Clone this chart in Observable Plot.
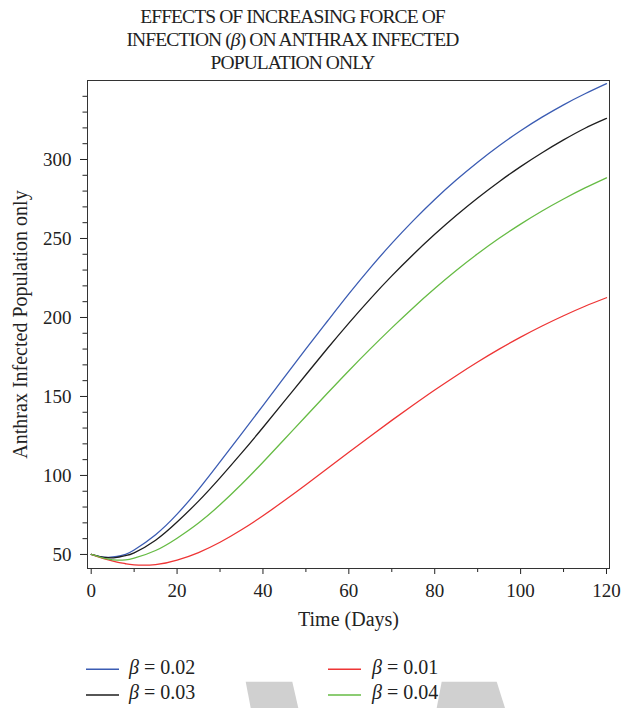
<!DOCTYPE html>
<html><head><meta charset="utf-8">
<script src="https://cdn.jsdelivr.net/npm/d3@7"></script>
<script src="https://cdn.jsdelivr.net/npm/@observablehq/plot@0.6"></script>
<style>
html,body{margin:0;padding:0;background:#fff;}
#wrap{position:relative;width:622px;height:708px;overflow:hidden;font-family:"Liberation Serif","DejaVu Serif",serif;color:#222;}
#title{position:absolute;left:0;top:4.5px;width:585px;text-align:center;font-size:19.5px;line-height:23.3px;letter-spacing:-0.9px;}
#chart{position:absolute;left:0;top:74px;}
#wm{position:absolute;left:0;top:0;}
.lg{position:absolute;font-size:20px;line-height:20px;white-space:nowrap;}
</style>
</head><body>
<div id="wrap">
  <svg id="wm" width="622" height="708">
    <polygon points="245.7,681.7 292.3,681.7 298.3,708 250.7,708" fill="#d0d0d0"/>
    <polygon points="441.7,681.7 496.7,681.7 505,708 436.7,708" fill="#d0d0d0"/>
    <g id="swatches"></g>
  </svg>
  <div id="title">EFFECTS OF INCREASING FORCE OF<br>INFECTION (<i>β</i>) ON ANTHRAX INFECTED<br>POPULATION ONLY</div>
  <div id="chart"></div>
  <div id="legend"></div>
</div>
<script>
const time = [0,2,4,6,8,10,15,20,25,30,35,40,45,50,55,60,65,70,75,80,85,90,95,100,105,110,115,120];
const beta002 = [50,48.6,48.2,48.7,50.1,52.8,62.5,75.5,91.2,108.6,126.3,144.2,162.2,180.1,197.6,214.9,231.4,246.9,261.3,274.7,287,298.3,308.7,318.2,326.8,334.6,341.6,348];
const beta003 = [50,48.6,47.9,48.2,49.3,51,59,70.5,83.75,98.5,114.1,130.35,147,163.75,180.35,196.45,211.8,226.3,239.9,252.65,264.55,275.65,285.95,295.5,304.3,312.4,319.8,326];
const beta001 = [50,48.2,46.6,45.2,44.1,43.4,43.6,46.4,51.2,57.7,65.6,74.5,84.1,94.1,104.35,114.65,124.85,134.85,144.55,154.05,163.15,171.8,179.95,187.55,194.6,201.1,207.1,212.5];
const beta004 = [50,48.3,47,46.4,46.5,47.6,52.5,60.3,69.9,81.4,94.4,108.4,122.9,137.5,152,166.3,180.1,193.4,206.2,218.3,229.7,240.3,250.1,259.1,267.4,275,282,288.4];

const seriesNames = ["β = 0.02","β = 0.03","β = 0.01","β = 0.04"];
const seriesColors = ["#3b5cb3","#1e1e1e","#ee3535","#66bb44"];
const seriesValues = [beta002, beta003, beta001, beta004];

const xMajor = [0,20,40,60,80,100,120];
const xMinor = [10,30,50,70,90,110];
const yMajor = [50,100,150,200,250,300];
const yMinor = d3.range(60,341,10).filter(v => v % 50 !== 0);

const rows = [];
seriesNames.forEach((name, i) => {
  time.forEach((t, j) => rows.push({series: name, t, v: seriesValues[i][j]}));
});

const chart = Plot.plot({
  width: 622,
  height: 560,
  marginLeft: 87,
  marginRight: 13,
  marginTop: 6,
  marginBottom: 66,
  style: {fontFamily: '"Liberation Serif", serif', fontSize: "19px", color: "#222", background: "transparent", overflow: "visible"},
  x: {domain: [-0.86, 120.7]},
  y: {domain: [41.1, 350]},
  color: {domain: seriesNames, range: seriesColors},
  marks: [
    Plot.axisX(xMajor, {tickSize: 6, tickPadding: 9, label: null, fontSize: 19}),
    Plot.axisX(xMinor, {tickSize: 4, tickFormat: () => "", label: null}),
    Plot.axisY(yMajor, {tickSize: 7, tickPadding: 9, label: null, fontSize: 19}),
    Plot.axisY(yMinor, {tickSize: 4.5, tickFormat: () => "", label: null}),
    Plot.line(rows, {x: "t", y: "v", z: "series", stroke: "series", strokeWidth: 1.3, curve: "natural"}),
    Plot.frame({stroke: "#333", strokeWidth: 1}),
    Plot.text(["Time (Days)"], {text: d => d, frameAnchor: "bottom", textAnchor: "middle", dy: 51, fontSize: 20, lineAnchor: "middle", fill: "#222"}),
    Plot.text(["Anthrax Infected Population only"], {text: d => d, frameAnchor: "left", textAnchor: "middle", rotate: -90, dx: -67, fontSize: 20, lineAnchor: "middle", fill: "#222"})
  ]
});
document.getElementById("chart").appendChild(chart);

// legend
const legend = document.getElementById("legend");
const swg = document.getElementById("swatches");
const pos = [
  {lx: 86, tx: 129, ly: 669.3, ty: 656.5},
  {lx: 86, tx: 129, ly: 695, ty: 682.2},
  {lx: 328, tx: 372, ly: 669.3, ty: 656.5},
  {lx: 328, tx: 372, ly: 695, ty: 682.2}
];
seriesNames.forEach((name, i) => {
  const p = pos[i];
  const ln = document.createElementNS("http://www.w3.org/2000/svg", "line");
  ln.setAttribute("x1", p.lx);
  ln.setAttribute("x2", p.lx + 33);
  ln.setAttribute("y1", p.ly);
  ln.setAttribute("y2", p.ly);
  ln.setAttribute("stroke", seriesColors[i]);
  ln.setAttribute("stroke-width", 1.4);
  swg.appendChild(ln);
  const tx = document.createElement("div");
  tx.className = "lg";
  tx.style.left = p.tx + "px";
  tx.style.top = p.ty + "px";
  tx.innerHTML = "<i>β</i> = " + name.split("= ")[1];
  legend.appendChild(tx);
});
</script>
</body></html>
